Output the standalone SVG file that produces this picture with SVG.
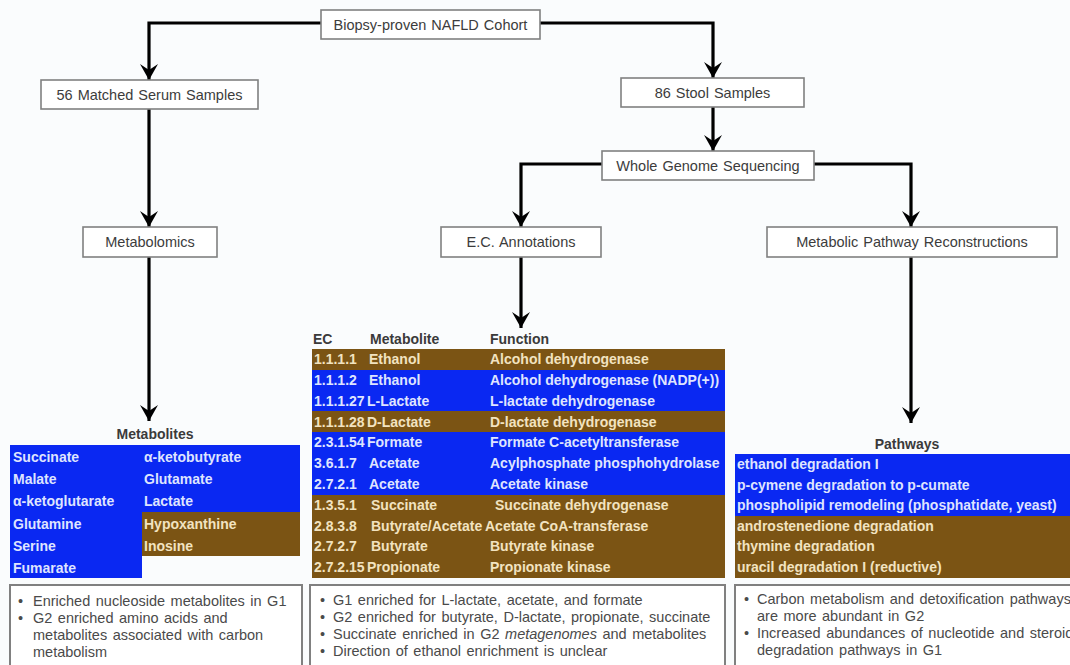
<svg xmlns="http://www.w3.org/2000/svg" width="1070" height="665" viewBox="0 0 1070 665">
<style>
.bg{fill:#fafcfd}
.node rect{fill:#ffffff;stroke:#808080;stroke-width:1.6}
.node text{font-family:"Liberation Sans",Arial,sans-serif;font-size:14.5px;fill:#3c3c3c;text-anchor:middle;word-spacing:1px}
.conn path{fill:none;stroke:#000;stroke-width:3.2}
.blue{fill:#0a28f2}
.brown{fill:#7b5414}
.tb{font-family:"Liberation Sans",Arial,sans-serif;font-size:14px;font-weight:bold}
.tb.onb{fill:#dfe4ff}
.tb.onr{fill:#f2e3c0}
.hdr{font-family:"Liberation Sans",Arial,sans-serif;font-size:14px;font-weight:bold;fill:#3a3a3a}
.note rect{fill:#ffffff;stroke:#808080;stroke-width:2}
.note text{font-family:"Liberation Sans",Arial,sans-serif;font-size:14.5px;fill:#4a4a4a;word-spacing:1.5px}
</style>
<defs>
<marker id="arr" markerUnits="userSpaceOnUse" markerWidth="18" markerHeight="18" refX="16" refY="9" orient="auto">
<path d="M0,0 L16,9 L0,18 L6,9 z" fill="#000"/>
</marker>
<clipPath id="midclip"><rect x="312" y="340" width="413" height="240"/></clipPath>
</defs>
<rect class="bg" x="0" y="0" width="1070" height="665"/>

<g class="conn" id="connectors">
<path d="M321,23 H149 V80" marker-end="url(#arr)"/>
<path d="M540,23 H713 V78" marker-end="url(#arr)"/>
<path d="M149,109 V227" marker-end="url(#arr)"/>
<path d="M713,107 V151" marker-end="url(#arr)"/>
<path d="M602,164 H521 V227" marker-end="url(#arr)"/>
<path d="M814,164 H911 V227" marker-end="url(#arr)"/>
<path d="M149,257 V421" marker-end="url(#arr)"/>
<path d="M521,257 V328" marker-end="url(#arr)"/>
<path d="M911,257 V423" marker-end="url(#arr)"/>
</g>

<g class="node" id="cohort"><rect x="321" y="10" width="219" height="29"/><text x="430.5" y="30">Biopsy-proven NAFLD Cohort</text></g>
<g class="node" id="serum"><rect x="41" y="80" width="217" height="29"/><text x="149.5" y="100">56 Matched Serum Samples</text></g>
<g class="node" id="stool"><rect x="621" y="78" width="183" height="29"/><text x="712.5" y="98">86 Stool Samples</text></g>
<g class="node" id="wgs"><rect x="602" y="151" width="212" height="29"/><text x="708" y="171">Whole Genome Sequencing</text></g>
<g class="node" id="metabolomics"><rect x="83" y="227" width="134" height="30"/><text x="150" y="247">Metabolomics</text></g>
<g class="node" id="ec"><rect x="441" y="227" width="160" height="30"/><text x="521" y="247">E.C. Annotations</text></g>
<g class="node" id="mpr"><rect x="767" y="227" width="290" height="30"/><text x="912" y="247">Metabolic Pathway Reconstructions</text></g>

<g id="metabolites">
<text class="hdr" x="155" y="439" text-anchor="middle">Metabolites</text>
<rect class="blue" x="10" y="445" width="132" height="133"/>
<rect class="blue" x="142" y="445" width="158" height="67"/>
<rect class="brown" x="142" y="512" width="158" height="44"/>
<text class="tb onb" x="13" y="462">Succinate</text>
<text class="tb onb" x="13" y="484">Malate</text>
<text class="tb onb" x="13" y="506">α-ketoglutarate</text>
<text class="tb onb" x="13" y="529">Glutamine</text>
<text class="tb onb" x="13" y="551">Serine</text>
<text class="tb onb" x="13" y="573">Fumarate</text>
<text class="tb onb" x="144" y="462">α-ketobutyrate</text>
<text class="tb onb" x="144" y="484">Glutamate</text>
<text class="tb onb" x="144" y="506">Lactate</text>
<text class="tb onr" x="144" y="529">Hypoxanthine</text>
<text class="tb onr" x="144" y="551">Inosine</text>
</g>

<g id="ec-table">
<text class="hdr" x="313" y="344">EC</text>
<text class="hdr" x="370" y="344">Metabolite</text>
<text class="hdr" x="490" y="344">Function</text>
<rect class="brown" x="312" y="349" width="413" height="21"/>
<rect class="blue" x="312" y="370" width="413" height="41"/>
<rect class="brown" x="312" y="411" width="413" height="21"/>
<rect class="blue" x="312" y="432" width="413" height="63"/>
<rect class="brown" x="312" y="495" width="413" height="83"/>
<g clip-path="url(#midclip)">
<text class="tb onr" x="314" y="364">1.1.1.1</text><text class="tb onr" x="369" y="364">Ethanol</text><text class="tb onr" x="490" y="364">Alcohol dehydrogenase</text>
<text class="tb onb" x="314" y="385">1.1.1.2</text><text class="tb onb" x="369" y="385">Ethanol</text><text class="tb onb" x="490" y="385">Alcohol dehydrogenase (NADP(+))</text>
<text class="tb onb" x="314" y="406">1.1.1.27</text><text class="tb onb" x="367" y="406">L-Lactate</text><text class="tb onb" x="490" y="406">L-lactate dehydrogenase</text>
<text class="tb onr" x="314" y="427">1.1.1.28</text><text class="tb onr" x="367" y="427">D-Lactate</text><text class="tb onr" x="490" y="427">D-lactate dehydrogenase</text>
<text class="tb onb" x="314" y="447">2.3.1.54</text><text class="tb onb" x="367" y="447">Formate</text><text class="tb onb" x="490" y="447">Formate C-acetyltransferase</text>
<text class="tb onb" x="314" y="468">3.6.1.7</text><text class="tb onb" x="369" y="468">Acetate</text><text class="tb onb" x="490" y="468">Acylphosphate phosphohydrolase</text>
<text class="tb onb" x="314" y="489">2.7.2.1</text><text class="tb onb" x="369" y="489">Acetate</text><text class="tb onb" x="490" y="489">Acetate kinase</text>
<text class="tb onr" x="314" y="510">1.3.5.1</text><text class="tb onr" x="371" y="510">Succinate</text><text class="tb onr" x="495" y="510">Succinate dehydrogenase</text>
<text class="tb onr" x="314" y="531">2.8.3.8</text><text class="tb onr" x="371" y="531">Butyrate/Acetate</text><text class="tb onr" x="485" y="531">Acetate CoA-transferase</text>
<text class="tb onr" x="314" y="551">2.7.2.7</text><text class="tb onr" x="371" y="551">Butyrate</text><text class="tb onr" x="490" y="551">Butyrate kinase</text>
<text class="tb onr" x="314" y="572">2.7.2.15</text><text class="tb onr" x="367" y="572">Propionate</text><text class="tb onr" x="490" y="572">Propionate kinase</text>
</g>
</g>

<g id="pathways">
<text class="hdr" x="907" y="449" text-anchor="middle">Pathways</text>
<rect class="blue" x="735" y="454" width="335" height="62"/>
<rect class="brown" x="735" y="516" width="335" height="62"/>
<text class="tb onb" x="737" y="469">ethanol degradation I</text>
<text class="tb onb" x="737" y="490">p-cymene degradation to p-cumate</text>
<text class="tb onb" x="737" y="510">phospholipid remodeling (phosphatidate, yeast)</text>
<text class="tb onr" x="737" y="531">androstenedione degradation</text>
<text class="tb onr" x="737" y="551">thymine degradation</text>
<text class="tb onr" x="737" y="572">uracil degradation I (reductive)</text>
</g>

<g class="note" id="note-left">
<rect x="10" y="585" width="292" height="100"/>
<text x="18" y="606">•</text><text x="33" y="606">Enriched nucleoside metabolites in G1</text>
<text x="18" y="623">•</text><text x="33" y="623">G2 enriched amino acids and</text>
<text x="33" y="640">metabolites associated with carbon</text>
<text x="33" y="657">metabolism</text>
</g>
<g class="note" id="note-mid">
<rect x="310" y="585" width="415" height="100"/>
<text x="320" y="605">•</text><text x="333" y="605">G1 enriched for L-lactate, acetate, and formate</text>
<text x="320" y="622">•</text><text x="333" y="622">G2 enriched for butyrate, D-lactate, propionate, succinate</text>
<text x="320" y="639">•</text><text x="333" y="639">Succinate enriched in G2 <tspan font-style="italic">metagenomes</tspan> and metabolites</text>
<text x="320" y="656">•</text><text x="333" y="656">Direction of ethanol enrichment is unclear</text>
</g>
<g class="note" id="note-right">
<rect x="735" y="585" width="345" height="100"/>
<text x="744" y="604">•</text><text x="757" y="604">Carbon metabolism and detoxification pathways</text>
<text x="757" y="621">are more abundant in G2</text>
<text x="744" y="638">•</text><text x="757" y="638">Increased abundances of nucleotide and steroid</text>
<text x="757" y="655">degradation pathways in G1</text>
</g>
</svg>
